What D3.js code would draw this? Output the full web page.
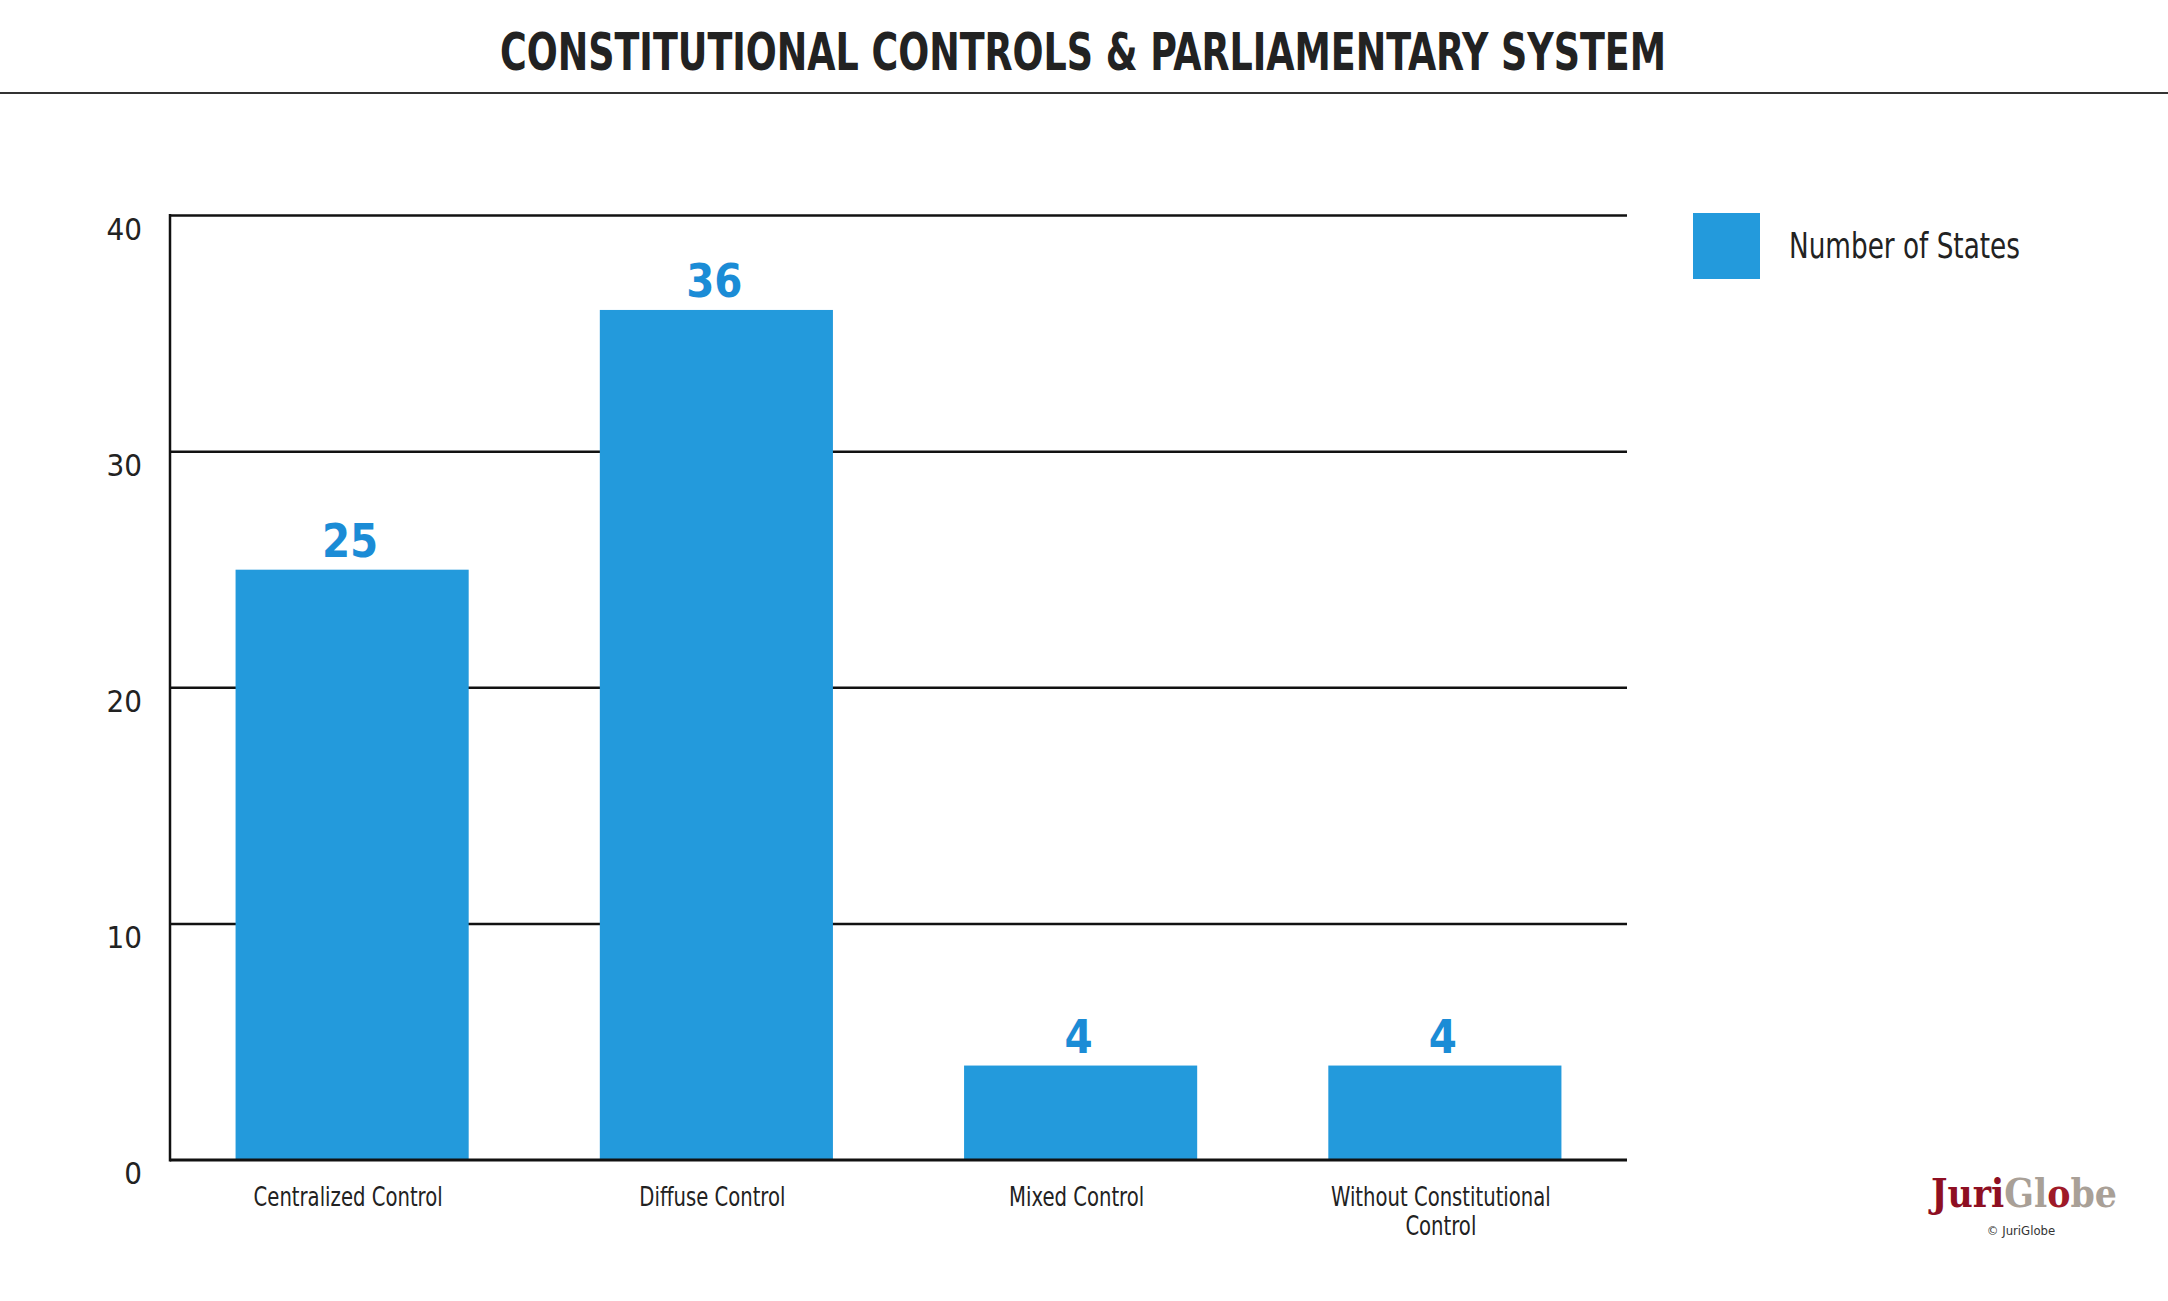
<!DOCTYPE html>
<html><head><meta charset="utf-8">
<script src="https://cdn.jsdelivr.net/npm/d3@7"></script>
<style>
html,body{margin:0;padding:0;background:#fff;}
svg{display:block;}
</style></head>
<body>
<script>
const categories = ["Centralized Control", "Diffuse Control", "Mixed Control", "Without Constitutional Control"];
const categoryLines = [["Centralized Control"], ["Diffuse Control"], ["Mixed Control"], ["Without Constitutional", "Control"]];
const values = [25, 36, 4, 4];
const yTicks = [0, 10, 20, 30, 40];
const seriesName = "Number of States";
const title = "CONSTITUTIONAL CONTROLS & PARLIAMENTARY SYSTEM";

(function () {
const W = 2168, H = 1301;
const condensed = "'DejaVu Sans Condensed','Liberation Sans Narrow',sans-serif";
const barColor = "#239ADC";
const labelColor = "#1B8CD6";

const svg = d3.select("body").append("svg").attr("width", W).attr("height", H);
svg.append("rect").attr("width", W).attr("height", H).attr("fill", "#fff");

function squeeze(sel, f) {
  sel.each(function () {
    const w = this.getComputedTextLength();
    d3.select(this).attr("textLength", w * f).attr("lengthAdjust", "spacingAndGlyphs");
  });
}

// Title
svg.append("text").attr("x", 1083).attr("y", 70)
  .attr("text-anchor", "middle").attr("font-family", condensed).attr("font-weight", "bold")
  .attr("font-size", 51).attr("fill", "#222")
  .attr("textLength", 1166).attr("lengthAdjust", "spacingAndGlyphs")
  .text(title);
svg.append("line").attr("x1", 0).attr("x2", W).attr("y1", 93).attr("y2", 93)
  .attr("stroke", "#333").attr("stroke-width", 2);

const pLeft = 170, pRight = 1627, pTop = 215.5, pBottom = 1160;
const x = d3.scaleBand().domain(categories).range([pLeft, pRight]).paddingInner(0.36).paddingOuter(0.18);
const y = d3.scaleLinear().domain([0, 40]).range([pBottom, pTop]);

// Gridlines
svg.append("g").selectAll("line").data(yTicks.filter(d => d > 0)).join("line")
  .attr("x1", pLeft).attr("x2", pRight).attr("y1", d => y(d)).attr("y2", d => y(d))
  .attr("stroke", "#111").attr("stroke-width", 2.5);

// Bars
svg.append("g").selectAll("rect").data(values).join("rect")
  .attr("x", (d, i) => x(categories[i])).attr("width", x.bandwidth())
  .attr("y", d => y(d)).attr("height", d => y(0) - y(d))
  .attr("fill", barColor);

// Axes lines
svg.append("line").attr("x1", pLeft).attr("x2", pLeft).attr("y1", pTop - 1.5).attr("y2", pBottom + 1.5)
  .attr("stroke", "#111").attr("stroke-width", 2.5);
svg.append("line").attr("x1", pLeft).attr("x2", pRight).attr("y1", pBottom).attr("y2", pBottom)
  .attr("stroke", "#111").attr("stroke-width", 3);

// Y tick labels
svg.append("g").selectAll("text").data(yTicks).join("text")
  .attr("x", 142).attr("y", d => y(d) + 24)
  .attr("text-anchor", "end").attr("font-family", condensed).attr("font-size", 31)
  .attr("fill", "#222").text(d => d);

// Value labels
const vl = svg.append("g").selectAll("text").data(values).join("text")
  .attr("x", (d, i) => x(categories[i]) + x.bandwidth() / 2 - 2).attr("y", d => y(d) - 13)
  .attr("text-anchor", "middle").attr("font-family", "'DejaVu Sans',sans-serif").attr("font-weight", "bold")
  .attr("font-size", 46).attr("fill", labelColor).text(d => d);
squeeze(vl, 0.88);

// X labels
const xl = svg.append("g").selectAll("text").data(categoryLines).join("text")
  .attr("x", (d, i) => x(categories[i]) + x.bandwidth() / 2 - 4).attr("y", 1206)
  .attr("text-anchor", "middle").attr("font-family", condensed).attr("font-size", 26)
  .attr("fill", "#222");
const ts = xl.selectAll("tspan").data(d => d).join("tspan")
  .attr("x", function () { return d3.select(this.parentNode).attr("x"); })
  .attr("dy", (d, i) => i === 0 ? 0 : 29).text(d => d);
squeeze(ts, 0.84);

// Legend
svg.append("rect").attr("x", 1693).attr("y", 213).attr("width", 67).attr("height", 66).attr("fill", barColor);
const lt = svg.append("text").attr("x", 1789).attr("y", 258).attr("font-family", condensed).attr("font-size", 35)
  .attr("fill", "#222").text(seriesName);
squeeze(lt, 0.835);

// Logo: one text with coloured tspans, sized to fit the reference width
const logo = svg.append("text").attr("x", 1931).attr("y", 1207)
  .attr("font-family", "'DejaVu Serif Condensed','DejaVu Serif',serif")
  .attr("font-weight", "bold").attr("font-size", 40);
[["Juri", "#8E0F22"], ["Gl", "#A9A097"], ["o", "#9E1A28"], ["be", "#A9A097"]].forEach(([t, c]) => {
  logo.append("tspan").attr("fill", c).text(t);
});
const lw = logo.node().getComputedTextLength();
logo.attr("font-size", 40 * 186 / lw);
svg.append("text").attr("x", 2021).attr("y", 1235).attr("text-anchor", "middle")
  .attr("font-family", condensed).attr("font-size", 13).attr("fill", "#333").text("© JuriGlobe");
})();
</script>
</body></html>
